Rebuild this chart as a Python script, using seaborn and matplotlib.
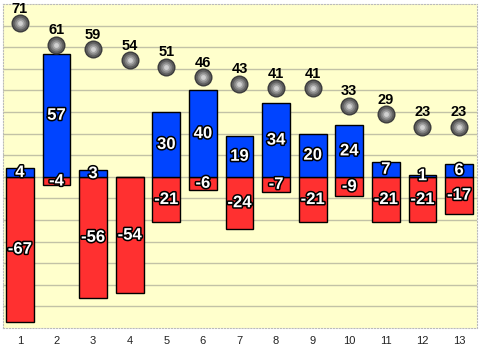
import numpy as np
import pandas as pd
import seaborn as sns
import matplotlib.pyplot as plt
import matplotlib.patheffects as pe

cats = [str(i) for i in range(1, 14)]
blue = [4, 57, 3, 0, 30, 40, 19, 34, 20, 24, 7, 1, 6]
red = [-67, -4, -56, -54, -21, -6, -24, -7, -21, -9, -21, -21, -17]
totals = [71, 61, 59, 54, 51, 46, 43, 41, 41, 33, 29, 23, 23]

df = pd.DataFrame({"cat": cats, "blue": blue, "red": red, "total": totals})

sns.set_style("white")
plt.rcParams["font.family"] = ["Liberation Sans Narrow", "Liberation Sans", "DejaVu Sans"]
fig = plt.figure(figsize=(4.8, 3.52), dpi=100)
ax = fig.add_axes([3 / 480, 24 / 352, 474 / 480, 324 / 352])
ax.set_facecolor("#FFFFCC")

sns.barplot(data=df, x="cat", y="red", color="#FF3030", saturation=1,
            width=0.76, edgecolor="black", linewidth=1, ax=ax)
sns.barplot(data=df, x="cat", y="blue", color="#0044FF", saturation=1,
            width=0.76, edgecolor="black", linewidth=1, ax=ax)

# spheres: stacked circles for a shaded look
for sz, col in [(13, "#3C3C3C"), (11, "#5E5E5E"), (8.5, "#808080"),
                (6, "#A4A4A4"), (3.5, "#D0D0D0")]:
    sns.stripplot(data=df, x="cat", y="total", jitter=False, size=sz,
                  color=col, linewidth=0, ax=ax, zorder=5)

outline = [pe.withStroke(linewidth=2.2, foreground="black")]
for i, row in df.iterrows():
    if row["blue"] != 0:
        ax.text(i, row["blue"] / 2, str(row["blue"]), ha="center", va="center",
                color="white", fontsize=12, fontweight="bold",
                path_effects=outline, zorder=7)
    ax.text(i, row["red"] / 2, str(row["red"]), ha="center", va="center",
            color="white", fontsize=12, fontweight="bold",
            path_effects=outline, zorder=7)
    ax.annotate(str(row["total"]), (i, row["total"]), xytext=(0, 5.5),
                textcoords="offset points", ha="center", va="bottom",
                fontsize=10.5, fontweight="bold", color="black", zorder=7)

ax.set_ylim(-70, 80)
ax.set_xlim(-0.46, 12.49)
ax.set_yticks(np.arange(-60, 80, 10))
ax.set_yticklabels([])
ax.yaxis.grid(True, color="#C2C2A6", linewidth=1)
ax.set_axisbelow(True)
ax.set_xlabel("")
ax.set_ylabel("")
ax.tick_params(axis="x", labelsize=8, labelcolor="#222222", length=3,
               color="#999999", pad=3)
ax.tick_params(axis="y", length=0)
for s in ax.spines.values():
    s.set_color("#BBBBBB")
    s.set_linestyle(":")

plt.savefig("out.png", dpi=100)
